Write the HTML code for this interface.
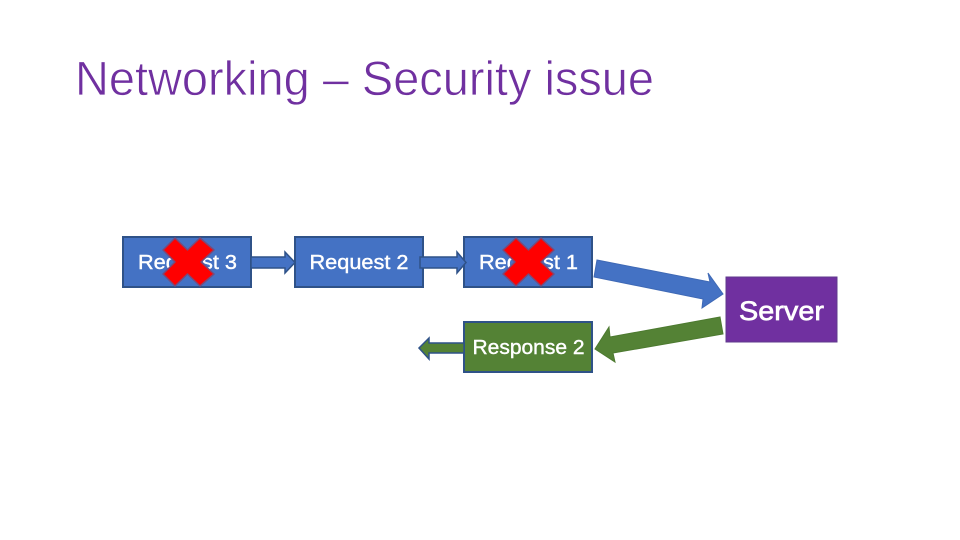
<!DOCTYPE html>
<html>
<head>
<meta charset="utf-8">
<style>
html,body{margin:0;padding:0;background:#fff}
svg{display:block}
text{font-family:"Liberation Sans",sans-serif}
</style>
</head>
<body>
<svg width="960" height="540" viewBox="0 0 960 540" xmlns="http://www.w3.org/2000/svg">
<rect width="960" height="540" fill="#fff"/>
<text x="75" y="95" font-size="48" fill="#7030a0" stroke="#fff" stroke-width="0.7" textLength="579" lengthAdjust="spacingAndGlyphs">Networking – Security issue</text>
<g stroke="#2f5288" stroke-width="2" fill="#4472c4">
<rect x="123" y="237" width="128" height="50"/>
<rect x="295" y="237" width="128" height="50"/>
<rect x="464" y="237" width="128" height="50"/>
</g>
<g stroke="#2f5288" stroke-width="1.500" fill="#4472c4">
<polygon points="251,257 285,257 285,252 295,262.500 285,273 285,268 251,268"/>
<polygon points="420,257 457,257 457,252 466,262.500 457,273 457,268 420,268"/>
<polygon points="597,260 710,282 708,273 723,294 702,308 703,299 594,277" stroke="#3f69b5" stroke-width="1"/>
</g>
<g stroke="#2f5288" stroke-width="2" fill="#548235">
<rect x="464" y="322" width="128" height="50"/>
</g>
<polygon points="464,343 429,343 429,338 419,348 429,359 429,353 464,353" fill="#548235" stroke="#2f5288" stroke-width="1.500"/>
<polygon points="720,317 610,337 609,327 595,349 615,362 613,353 723,334" fill="#548235" stroke="#4d7a30" stroke-width="1"/>
<rect x="726" y="277" width="111" height="65" fill="#7030a0" stroke="#5f3a8c" stroke-width="1"/>
<g fill="#fff" font-size="20" text-anchor="middle" stroke="#fff" stroke-width="0.4">
<text x="187.500" y="269" textLength="99" lengthAdjust="spacingAndGlyphs">Request 3</text>
<text x="359" y="269" textLength="99" lengthAdjust="spacingAndGlyphs">Request 2</text>
<text x="528.500" y="269" textLength="99" lengthAdjust="spacingAndGlyphs">Request 1</text>
<text x="528.500" y="354" textLength="112" lengthAdjust="spacingAndGlyphs">Response 2</text>
<text x="781.500" y="320" font-size="27" stroke-width="0.7" textLength="85" lengthAdjust="spacingAndGlyphs">Server</text>
</g>
<g fill="#ff0000" stroke="#7a4a78" stroke-width="1.500" stroke-linejoin="round">
<polygon points="175,238 187.500,250 200,238 214,250 201,262 214,274 200,286 187.500,274 175,286 163,274 175,262 163,250"/>
<polygon points="516,238 528.500,250 541,238 554,250 541,262 554,274 541,286 528.500,274 516,286 503,274 515,262 503,250"/>
</g>
</svg>
</body>
</html>
